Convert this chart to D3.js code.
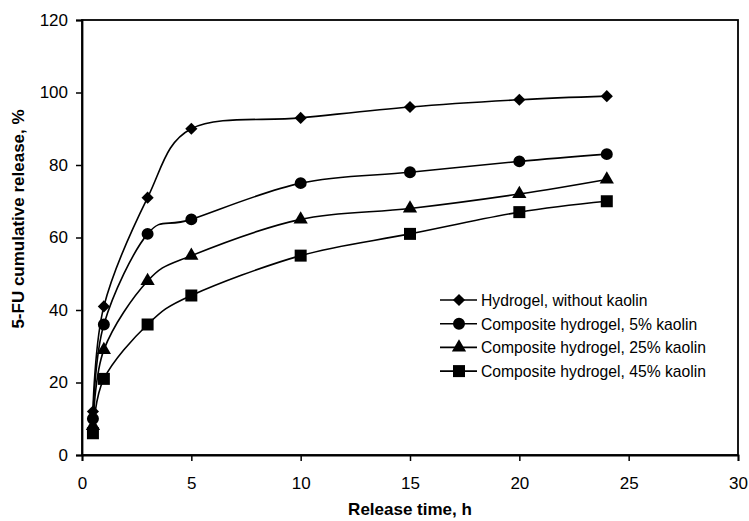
<!DOCTYPE html>
<html>
<head>
<meta charset="utf-8">
<script src="https://cdn.jsdelivr.net/npm/d3@7"></script>
<style>
  body { margin: 0; background: #fff; }
  text { font-family: Arial, "Liberation Sans", sans-serif; fill: #000; }
</style>
</head>
<body>
<div id="chart"></div>
<script>
// release times (h)
const times = [0.5, 1, 3, 5, 10, 15, 20, 24]
const hydrogel = [12, 41, 71, 90, 93, 96, 98, 99]
const comp5 = [10, 36, 61, 65, 75, 78, 81, 83]
const comp25 = [8, 29, 48, 55, 65, 68, 72, 76]
const comp45 = [6, 21, 36, 44, 55, 61, 67, 70]
const seriesNames = ["Hydrogel, without kaolin", "Composite hydrogel, 5% kaolin",
  "Composite hydrogel, 25% kaolin", "Composite hydrogel, 45% kaolin"]
const markers = ["diamond", "circle", "triangle", "square"]
const xTicks = [0, 5, 10, 15, 20, 25, 30]
const yTicks = [0, 20, 40, 60, 80, 100, 120]

const width = 749, height = 521
const margin = {left: 82, top: 20, right: 11, bottom: 66}

const svg = d3.select("#chart").append("svg")
  .attr("width", width).attr("height", height)

const xScale = d3.scaleLinear().domain([0, 30]).range([margin.left, width - margin.right])
const yScale = d3.scaleLinear().domain([0, 120]).range([height - margin.bottom, margin.top])

// frame
svg.append("rect")
  .attr("x", margin.left).attr("y", margin.top)
  .attr("width", xScale(30) - margin.left).attr("height", yScale(0) - margin.top)
  .attr("fill", "none").attr("stroke", "#000").attr("stroke-width", 1.8)

const xAxis = d3.axisBottom(xScale).tickValues(xTicks).tickSize(6).tickPadding(16)
const yAxis = d3.axisLeft(yScale).tickValues(yTicks).tickSize(6).tickPadding(8)

const gx = svg.append("g").attr("transform", `translate(0,${yScale(0)})`).call(xAxis)
const gy = svg.append("g").attr("transform", `translate(${margin.left},0)`).call(yAxis)
;[gx, gy].forEach(g => {
  g.select(".domain").attr("stroke-width", 1.8)
  g.selectAll(".tick line").attr("stroke-width", 1.5)
  g.selectAll(".tick text").style("font-size", "17px").style("font-family", "Arial, 'Liberation Sans', sans-serif")
})

// axis titles
svg.append("text")
  .attr("x", 410).attr("y", 515)
  .attr("text-anchor", "middle").style("font-size", "17px").style("font-weight", "bold")
  .text("Release time, h")
svg.append("text")
  .attr("transform", "translate(24,219) rotate(-90)")
  .attr("text-anchor", "middle").style("font-size", "17px").style("font-weight", "bold")
  .text("5-FU cumulative release, %")

const symbolFor = {
  diamond: d3.symbol().type(d3.symbolSquare).size(74),
  circle: d3.symbol().type(d3.symbolCircle).size(113),
  triangle: d3.symbol().type(d3.symbolTriangle).size(88),
  square: d3.symbol().type(d3.symbolSquare).size(144)
}
function drawMarker(g, kind, x, y) {
  g.append("path")
    .attr("d", symbolFor[kind]())
    .attr("transform", `translate(${x},${y})` + (kind === "diamond" ? " rotate(45)" : ""))
    .attr("fill", "#000")
}

const allSeries = [hydrogel, comp5, comp25, comp45]
const line = d3.line()
  .x(d => xScale(d[0]))
  .y(d => yScale(d[1]))
  .curve(d3.curveCardinal.tension(0))

allSeries.forEach((vals, i) => {
  const pts = times.map((t, j) => [t, vals[j]])
  svg.append("path").datum(pts)
    .attr("d", line)
    .attr("fill", "none").attr("stroke", "#000").attr("stroke-width", 1.6)
  const g = svg.append("g")
  pts.forEach(p => drawMarker(g, markers[i], xScale(p[0]), yScale(p[1])))
})

// legend
const legend = svg.append("g").attr("transform", "translate(440,300)")
seriesNames.forEach((name, i) => {
  const y = i * 23.7
  legend.append("line").attr("x1", 0).attr("x2", 37).attr("y1", y).attr("y2", y)
    .attr("stroke", "#000").attr("stroke-width", 1.6)
  drawMarker(legend, markers[i], 19, y)
  legend.append("text").attr("x", 41).attr("y", y + 6)
    .style("font-size", "15.7px").text(name)
})
</script>
</body>
</html>
